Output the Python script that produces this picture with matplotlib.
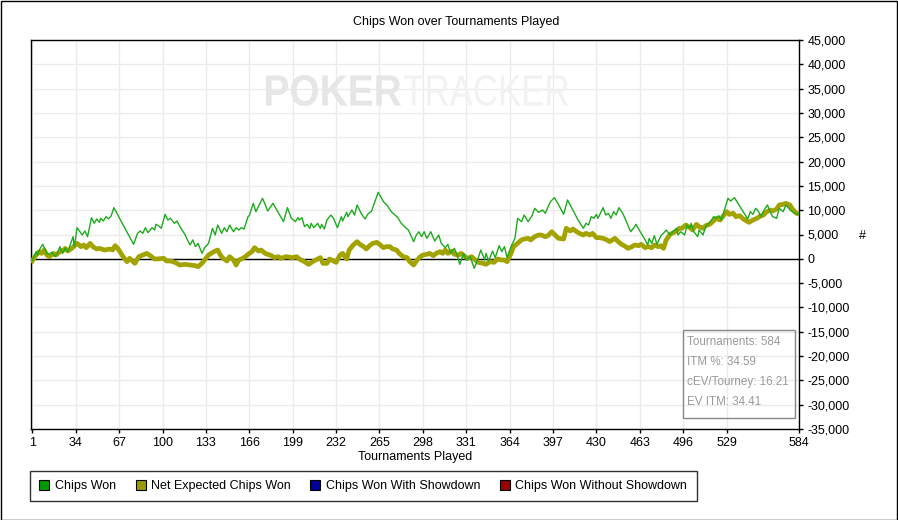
import matplotlib
matplotlib.use("Agg")
import matplotlib.pyplot as plt
from matplotlib.lines import Line2D
from matplotlib.patches import Rectangle, PathPatch
from matplotlib.textpath import TextPath
from matplotlib.font_manager import FontProperties
from matplotlib.ticker import FuncFormatter
from matplotlib.transforms import Affine2D

plt.rcParams['font.family'] = ['Liberation Sans', 'DejaVu Sans']

W, H = 898, 520

# vertices: (tournament, chips)
chips_won = [
    (1, -300), (4, 1470), (5, 780), (7, 2150), (9, 2980), (12, 1120), (14, 920), (16, 1330),
    (18, 440), (20, 1120), (22, 2500), (24, 1120), (26, 2150), (28, 1470), (32, 4550), (33, 2500),
    (35, 6400), (39, 4900), (41, 5720), (43, 4550), (46, 8460), (48, 7300), (50, 8190), (52, 7500),
    (53, 8330), (55, 7780), (57, 8670), (59, 8190), (61, 8870), (63, 10520), (78, 2980), (81, 5240),
    (83, 5720), (85, 5240), (87, 6400), (89, 5380), (92, 6400), (94, 5930), (95, 7090), (97, 6800),
    (99, 6270), (102, 9150), (104, 7980), (106, 8330), (109, 7300), (111, 7780), (114, 6270),
    (117, 5040), (119, 3880), (121, 2840), (123, 3880), (125, 2500), (127, 3180), (130, 1125),
    (132, 2290), (135, 3180), (138, 6270), (140, 4900), (142, 6950), (145, 5240), (147, 6400),
    (149, 5570), (151, 6950), (154, 5570), (156, 6400), (158, 5920), (160, 6400), (162, 6120),
    (165, 8670), (166, 8870), (169, 11410), (171, 9700), (176, 12440), (178, 11210), (180, 9830),
    (184, 11410), (192, 7640), (195, 10520), (198, 8330), (201, 7640), (203, 8460), (204, 7980),
    (206, 8460), (208, 6610), (210, 7090), (212, 6270), (213, 7300), (215, 6400), (218, 7300),
    (220, 6270), (221, 7090), (223, 6130), (225, 7980), (228, 9010), (230, 8330), (233, 6400),
    (236, 8670), (237, 7780), (240, 9560), (241, 8670), (244, 10040), (246, 9010), (248, 11070),
    (251, 9360), (254, 8190), (256, 9150), (259, 9830), (264, 13670), (268, 11750), (271, 10930),
    (274, 9700), (279, 8460), (281, 7500), (284, 6610), (287, 5920), (291, 3530), (293, 4900),
    (295, 5570), (297, 4550), (299, 5570), (301, 4210), (304, 5570), (307, 3640), (310, 4900),
    (312, 3180), (315, 2290), (317, 2980), (319, 1120), (322, 2150), (324, 780), (326, -1140),
    (329, 1120), (331, -250), (334, 440), (337, -1960), (340, 100), (342, 1810), (345, -250),
    (346, 1120), (348, -450), (351, 1600), (353, 240), (356, 2700), (358, 1470), (360, 2500),
    (362, 240), (365, 2500), (368, 4210), (370, 8320), (373, 7640), (375, 9010), (378, 7640),
    (381, 8870), (383, 10380), (386, 9560), (389, 10040), (391, 9360), (395, 11750), (398, 12580),
    (401, 11210), (405, 9150), (408, 12100), (412, 10040), (416, 7980), (420, 6270), (422, 7300),
    (424, 6950), (426, 8670), (428, 8330), (430, 9150), (431, 8330), (433, 9360), (435, 10520),
    (437, 9010), (439, 9360), (441, 8330), (443, 9700), (445, 9010), (447, 10520), (450, 9360),
    (456, 5570), (459, 6610), (460, 7090), (462, 6130), (467, 3880), (469, 2840), (470, 4200),
    (472, 3180), (474, 4750), (476, 2980), (479, 4750), (482, 5570), (483, 5920), (486, 4900),
    (488, 5570), (491, 6270), (492, 4900), (494, 5570), (497, 4900), (499, 6950), (501, 6270),
    (502, 7300), (504, 5570), (507, 4550), (508, 5920), (511, 4900), (513, 6610), (517, 7780),
    (519, 8670), (521, 8330), (523, 8870), (525, 7980), (530, 12440), (532, 11890), (535, 12580),
    (536, 12100), (545, 8190), (547, 9700), (549, 9150), (551, 10380), (553, 9830), (555, 8670),
    (557, 9830), (560, 11070), (562, 9700), (564, 8670), (567, 8330), (569, 10380), (572, 9700),
    (574, 11070), (578, 9830), (581, 9360), (583, 9150), (584, 9500),
]

net_expected = [
    (1, -450), (3, 440), (6, 1470), (8, 1120), (10, 1810), (12, 780), (14, 440), (17, 1120),
    (19, 780), (22, 1470), (25, 1810), (26, 2150), (28, 1600), (31, 2150), (35, 3180), (38, 2500),
    (40, 2840), (42, 2290), (45, 3180), (47, 2500), (50, 2020), (52, 2150), (56, 1810), (60, 2020),
    (62, 1810), (64, 2700), (66, 2150), (70, 440), (73, -590), (75, 100), (79, -930), (82, 440),
    (85, 780), (88, 1120), (90, 780), (94, -40), (97, 0), (101, 100), (103, -450), (106, -450),
    (108, -590), (111, -930), (113, -1280), (117, -1140), (121, -1280), (125, -1410), (127, -1620),
    (130, -930), (132, -250), (135, 780), (137, 1120), (140, 1600), (142, 1810), (144, 780),
    (146, 100), (149, -450), (151, 440), (154, -250), (156, -1280), (158, -250), (160, -40),
    (163, 440), (165, 920), (168, 1470), (170, 2290), (173, 1600), (175, 1810), (178, 1120),
    (180, 920), (183, 640), (185, 240), (188, 440), (190, 100), (194, 440), (199, 240), (202, 440),
    (204, -40), (208, -590), (211, -1140), (215, -450), (218, -40), (220, 240), (222, -930),
    (225, -930), (227, -40), (230, -450), (232, -730), (235, 780), (237, 1120), (240, -40),
    (242, 1810), (245, 2840), (248, 3530), (250, 2980), (253, 2500), (255, 2020), (258, 2840),
    (260, 3180), (263, 3390), (265, 2980), (268, 2290), (270, 2500), (273, 2500), (275, 2020),
    (278, 1810), (280, 1120), (283, 440), (286, 240), (288, -590), (291, -1280), (293, -450),
    (296, 440), (298, 780), (301, 920), (303, 1120), (306, 640), (308, 1120), (311, 1470),
    (313, 1120), (315, 1810), (317, 1120), (320, 1600), (322, 920), (325, 780), (327, 1120),
    (330, 440), (332, 100), (335, 440), (337, -40), (340, -730), (344, -930), (346, -1140),
    (349, -590), (352, -730), (355, -40), (358, -250), (360, -250), (362, -590), (365, 1120),
    (367, 2500), (370, 3180), (373, 3880), (375, 4070), (378, 4210), (380, 3880), (383, 4550),
    (386, 4900), (388, 4900), (391, 4550), (393, 4750), (396, 5570), (398, 5040), (401, 4210),
    (405, 4070), (407, 6270), (410, 5720), (412, 6130), (415, 5570), (417, 5240), (420, 4900),
    (422, 5240), (425, 4900), (427, 5240), (430, 4350), (432, 4350), (435, 4210), (438, 3880),
    (440, 3530), (444, 4210), (446, 3660), (449, 2980), (451, 2700), (454, 2150), (457, 2500),
    (459, 2840), (462, 2700), (464, 2980), (467, 2290), (469, 2500), (472, 2290), (474, 2840),
    (477, 2500), (479, 2700), (481, 2150), (483, 3880), (486, 5040), (490, 5570), (493, 6270),
    (495, 6270), (498, 6950), (501, 6400), (503, 5920), (506, 7090), (508, 6610), (511, 6270),
    (513, 6810), (516, 7090), (519, 7780), (521, 8330), (524, 7980), (526, 8670), (529, 9700),
    (531, 9150), (534, 9360), (536, 8670), (539, 8870), (541, 8330), (544, 7780), (546, 7500),
    (549, 7980), (552, 8330), (554, 8670), (557, 9010), (559, 9560), (562, 10040), (564, 9830),
    (567, 10250), (569, 11070), (572, 11210), (574, 11410), (577, 11070), (579, 10250),
    (582, 9360), (584, 9250),
]

x_ticks = [1, 34, 67, 100, 133, 166, 199, 232, 265, 298, 331, 364, 397, 430, 463, 496, 529, 584]
y_ticks = list(range(-35000, 45001, 5000))

series_names = ["Chips Won", "Net Expected Chips Won", "Chips Won With Showdown",
                "Chips Won Without Showdown"]
legend_colors = ["#009900", "#999900", "#000099", "#990000"]

stats = ["Tournaments: 584", "ITM %: 34.59", "cEV/Tourney: 16.21", "EV ITM: 34.41"]

FS = 9


def fx(px):
    return px / W


def fy(py):
    return 1 - py / H


fig = plt.figure(figsize=(W / 100, H / 100), dpi=100)
ax = fig.add_axes([fx(31), fy(429), 768 / W, 389 / H])

ax.plot([p[0] for p in net_expected], [p[1] for p in net_expected],
        color="#a3a300", lw=3.4, zorder=3, solid_joinstyle="round")
ax.plot([p[0] for p in chips_won], [p[1] for p in chips_won],
        color="#1eaa1e", lw=1.0, zorder=4)
ax.axhline(0, color="black", lw=1, zorder=2)

ax.set_xlim(0, 584)
ax.set_ylim(-35000, 45000)
ax.set_xticks(x_ticks)
ax.set_yticks(y_ticks)
ax.yaxis.tick_right()
ax.yaxis.set_major_formatter(FuncFormatter(lambda v, p: f"{v:,.0f}"))
ax.tick_params(axis="both", labelsize=FS, length=3, width=1, color="black", pad=3)
ax.grid(True, color="#ebebeb", lw=1)
ax.set_axisbelow(True)
for sp in ax.spines.values():
    sp.set_linewidth(1)
    sp.set_color("black")

ax.set_xlabel("Tournaments Played", fontsize=FS, labelpad=1.5)
fig.text(fx(456), fy(22), "Chips Won over Tournaments Played", fontsize=FS,
         ha="center", va="center")
fig.text(fx(862), fy(236), "#", fontsize=FS, ha="center", va="center")


# faint watermark, stretched into its box
def stamp(s, x0, x1, ytop, ybot, color, weight):
    tp = TextPath((0, 0), s, size=100, prop=FontProperties(family="Liberation Sans", weight=weight))
    bb = tp.get_extents()
    tr = (Affine2D().translate(-bb.x0, -bb.y0)
          .scale((x1 - x0) / bb.width, (ybot - ytop) / bb.height)
          .translate(x0, H - ybot).scale(1 / W, 1 / H))
    ax.add_patch(PathPatch(tp, transform=tr + fig.transFigure, facecolor=color,
                           edgecolor="none", zorder=1, clip_on=False))


stamp("POKER", 266, 401, 75, 106, "#e6e6e6", "bold")
stamp("TRACKER", 404, 568, 75, 106, "#f2f2f2", "normal")

# stats box
fig.add_artist(Rectangle((fx(683), fy(418)), 112 / W, 88 / H, transform=fig.transFigure,
                         fill=False, edgecolor="#888888", lw=1))
for i, s in enumerate(stats):
    fig.text(fx(687), fy(341.7 + 20 * i), s, fontsize=8.4, color="#9a9a9a", va="center")

handles = [Line2D([], [], ls="none", marker="s", markersize=7.5, markerfacecolor=c,
                  markeredgecolor="black", markeredgewidth=0.8) for c in legend_colors]
leg = fig.legend(handles, series_names, loc="upper left", bbox_to_anchor=(fx(30), fy(470.5)),
                 ncol=4, fontsize=FS, frameon=True, fancybox=False, edgecolor="black",
                 handlelength=0.8, handletextpad=0.45, columnspacing=1.55, borderpad=0.75,
                 borderaxespad=0)
leg.get_frame().set_linewidth(1)

fig.add_artist(Rectangle((0.5 / W, 0.5 / H), (W - 1.5) / W, (H - 1.5) / H,
                         transform=fig.transFigure, fill=False, edgecolor="black", lw=1))

fig.savefig("out.png", dpi=100)
